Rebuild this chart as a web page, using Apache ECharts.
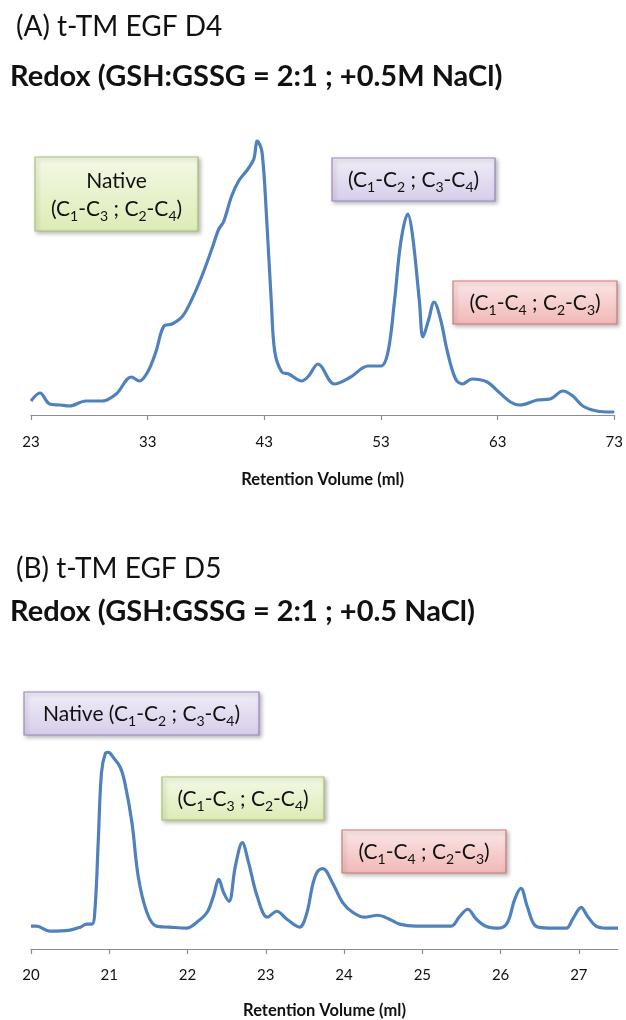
<!DOCTYPE html>
<html>
<head>
<meta charset="utf-8">
<script src="https://cdn.jsdelivr.net/npm/echarts@6/dist/echarts.min.js"></script>
<style>
html,body{margin:0;padding:0;background:#fff;}
#chart{width:626px;height:1020px;}
</style>
</head>
<body>
<div id="chart"></div>
<script>
// ---------- Data ----------
const titleA = "(A) t-TM EGF D4";
const subtitleA = "Redox (GSH:GSSG = 2:1 ; +0.5M NaCl)";
const titleB = "(B) t-TM EGF D5";
const subtitleB = "Redox (GSH:GSSG = 2:1 ; +0.5 NaCl)";
const axisName = "Retention Volume (ml)";

const ticksA = [23, 33, 43, 53, 63, 73];
const ticksB = [20, 21, 22, 23, 24, 25, 26, 27];

const volumeA = [23, 23.77, 24.6, 25.5, 26.3, 27.7, 29.1, 30.3, 31.6, 32.3, 33, 33.7, 34.4, 35.1, 36, 36.8, 37.65, 38.5, 39.1, 39.5, 40.2, 40.8, 41.6, 42.1, 42.4, 42.8, 43.2, 43.6, 43.9, 44.5, 45.1, 46.2, 46.8, 47.6, 49.0, 50.4, 51.9, 53.0, 53.6, 54.15, 54.7, 55.3, 55.7, 56.3, 56.6, 57.1, 57.55, 58.1, 58.7, 59.4, 60.0, 60.8, 62.1, 63.0, 64.1, 64.9, 66.4, 67.5, 68.6, 69.45, 70.3, 71.5, 72.7, 73];
const signalA = [14, 22, 11, 10, 9, 14, 14, 21, 38, 34, 43, 63, 89, 91, 99, 116, 139, 166, 186, 193, 219, 234, 246, 256, 274, 263, 196, 113, 63, 43, 41, 34, 39, 51, 31, 38, 49, 49, 63, 113, 173, 201, 180, 113, 78, 96, 113, 96, 63, 36, 31, 36, 33, 24, 13, 10, 15, 16, 24, 19, 9, 4, 3, 3];

const volumeB = [20.0, 20.07, 20.24, 20.5, 20.63, 20.71, 20.78, 20.82, 20.86, 20.9, 20.95, 20.99, 21.05, 21.14, 21.2, 21.29, 21.37, 21.48, 21.6, 21.77, 21.99, 22.12, 22.25, 22.33, 22.4, 22.46, 22.53, 22.61, 22.7, 22.78, 22.89, 23.02, 23.14, 23.27, 23.43, 23.52, 23.6, 23.66, 23.73, 23.85, 23.98, 24.11, 24.26, 24.43, 24.58, 24.71, 24.92, 25.13, 25.37, 25.47, 25.58, 25.69, 25.81, 25.98, 26.09, 26.18, 26.26, 26.34, 26.45, 26.62, 26.84, 26.92, 27.03, 27.11, 27.22, 27.35, 27.5];
const signalB = [23, 23, 18, 19, 22, 25, 25, 43, 110, 177, 197, 198, 193, 183, 167, 127, 73, 37, 23, 22, 21, 27, 37, 53, 70, 57, 48, 83, 107, 87, 53, 32, 38, 30, 22, 35, 65, 78, 81, 67, 47, 37, 32, 34, 30, 25, 23, 23, 23, 32, 40, 30, 23, 21, 27, 50, 61, 43, 23, 21, 21, 30, 42, 33, 23, 21, 21];

// ---------- Styling helpers ----------
const FONT = 'Lato';
const LINE = '#4f81bd';
const AXIS = '#8c8c8c';

function pair(xs, ys) { return xs.map((x, i) => [x, ys[i]]); }

const rich = {
  n: { fontFamily: FONT, fontSize: 21, lineHeight: 28, fill: '#111', color: '#111' },
  s: { fontFamily: FONT, fontSize: 14, lineHeight: 14, verticalAlign: 'bottom', fill: '#111', color: '#111' }
};

function box(x, y, w, h, top, bottom, stroke, text) {
  return {
    type: 'group',
    children: [
      {
        type: 'rect',
        shape: { x: x, y: y, width: w, height: h },
        style: {
          fill: new echarts.graphic.LinearGradient(0, 0, 0, 1, [
            { offset: 0, color: top }, { offset: 1, color: bottom }
          ]),
          stroke: stroke, lineWidth: 1.2,
          shadowBlur: 4, shadowOffsetX: 2, shadowOffsetY: 2, shadowColor: 'rgba(0,0,0,0.28)'
        }
      },
      {
        type: 'text',
        style: {
          x: x + w / 2, y: y + h / 2 + 1,
          text: text, rich: rich,
          align: 'center', verticalAlign: 'middle'
        }
      }
    ]
  };
}

const GREEN = ['#f4f9e6', '#dcecb6', '#a8c46c'];
const PURPLE = ['#f0edf7', '#d7cdea', '#9a86c2'];
const RED = ['#fbe7e7', '#f0b8b6', '#cf7a77'];

const c13c24 = '{n|(C}{s|1}{n|-C}{s|3}{n| ; C}{s|2}{n|-C}{s|4}{n|)}';
const c12c34 = '{n|(C}{s|1}{n|-C}{s|2}{n| ; C}{s|3}{n|-C}{s|4}{n|)}';
const c14c23 = '{n|(C}{s|1}{n|-C}{s|4}{n| ; C}{s|2}{n|-C}{s|3}{n|)}';

function titleText(x, y, text, bold, size) {
  return {
    type: 'text',
    style: {
      x: x, y: y, text: text,
      font: (bold ? 'bold ' : '') + size + 'px ' + FONT,
      fill: '#111', align: 'left', verticalAlign: 'middle'
    }
  };
}

function xAxisCfg(gridIndex, min, max, ticks, margin, nameGap) {
  return {
    type: 'value', gridIndex: gridIndex, min: min, max: max,
    name: axisName, nameLocation: 'middle', nameGap: nameGap,
    nameTextStyle: { fontFamily: FONT, fontWeight: 'bold', fontSize: 16.5, color: '#111' },
    axisLine: { show: true, lineStyle: { color: AXIS, width: 1.2 } },
    axisTick: { show: true, customValues: ticks, length: 5, inside: false, lineStyle: { color: AXIS, width: 1.2 } },
    axisLabel: { customValues: ticks, margin: margin, fontFamily: FONT, fontSize: 15, color: '#111' },
    splitLine: { show: false }
  };
}

const chart = echarts.init(document.getElementById('chart'), null, { renderer: 'canvas' });
chart.setOption({
  backgroundColor: '#ffffff',
  animation: false,
  grid: [
    { left: 31, right: 8, top: 115, bottom: 605 },
    { left: 31, right: 8, top: 651, bottom: 69 }
  ],
  xAxis: [
    xAxisCfg(0, 23, 73, ticksA, 20, 56),
    xAxisCfg(1, 20, 27.5, ticksB, 19, 53)
  ],
  yAxis: [
    { type: 'value', gridIndex: 0, min: 0, max: 300, show: false },
    { type: 'value', gridIndex: 1, min: 0, max: 300, show: false }
  ],
  series: [
    {
      type: 'line', xAxisIndex: 0, yAxisIndex: 0, data: pair(volumeA, signalA),
      smooth: 0.35, showSymbol: false, lineStyle: { color: LINE, width: 3.2 }
    },
    {
      type: 'line', xAxisIndex: 1, yAxisIndex: 1, data: pair(volumeB, signalB),
      smooth: 0.35, showSymbol: false, lineStyle: { color: LINE, width: 3.2 }
    }
  ],
  graphic: [
    titleText(16, 27, titleA, false, 28),
    titleText(10, 77, subtitleA, true, 29),
    titleText(16, 569, titleB, false, 28),
    titleText(10, 612, subtitleB, true, 29),
    box(35, 157, 163, 74, GREEN[0], GREEN[1], GREEN[2], '{n|Native}\n' + c13c24),
    box(332, 158, 163, 43, PURPLE[0], PURPLE[1], PURPLE[2], c12c34),
    box(453, 281, 164, 43, RED[0], RED[1], RED[2], c14c23),
    box(24, 692, 235, 43, PURPLE[0], PURPLE[1], PURPLE[2], '{n|Native }' + c12c34),
    box(162, 777, 162, 43, GREEN[0], GREEN[1], GREEN[2], c13c24),
    box(342, 830, 164, 43, RED[0], RED[1], RED[2], c14c23)
  ]
});
</script>
</body>
</html>
